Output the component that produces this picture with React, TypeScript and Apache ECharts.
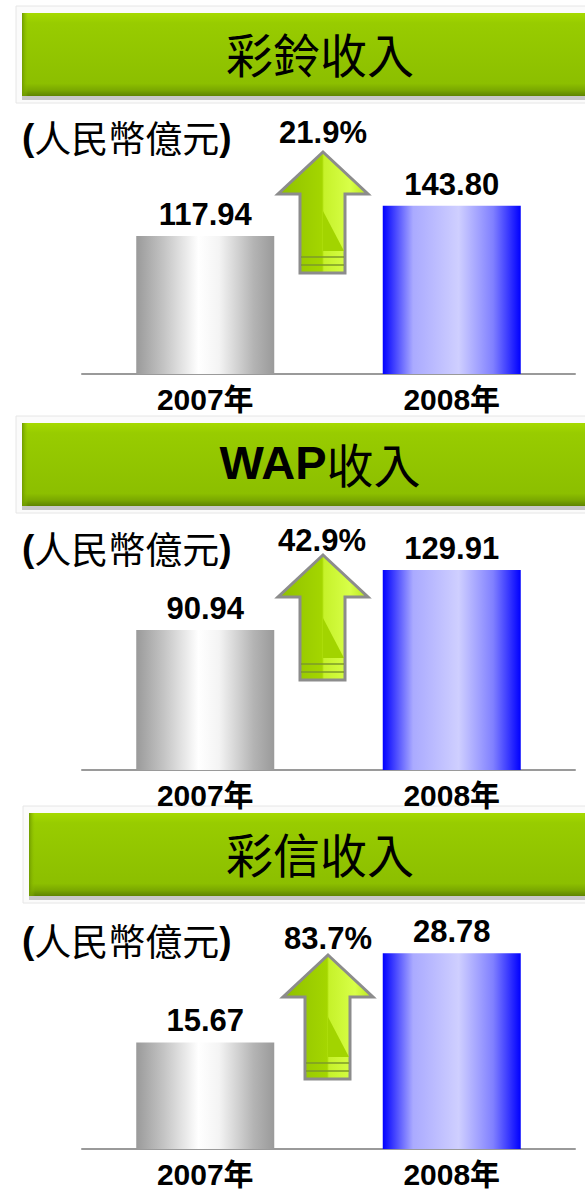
import React, { useEffect, useRef } from "react";
import * as echarts from "echarts";

// ---- data ----
const categories = ["2007年", "2008年"];
const panelTitles = ["彩鈴收入", "WAP收入", "彩信收入"];
const ringtoneRevenue = [117.94, 143.8];
const wapRevenue = [90.94, 129.91];
const mmsRevenue = [15.67, 28.78];
const growthLabels = ["21.9%", "42.9%", "83.7%"];
const unitLabel = "(人民幣億元)";
const axisMax = [150, 140, 30];

// ---- layout ----
const W = 585;
const H = 1189;
const gridTops = [198.5, 554.4, 945];
const gridBottoms = [374, 770, 1153];
const bannerX = [22, 22, 29];
const bannerY = [13, 423, 813];
const bannerH = 83;
const unitY = [137, 548, 940];
const arrowPos = [
  { x: 278, y: 152, h: 121 },
  { x: 278, y: 555, h: 125 },
  { x: 283, y: 955, h: 124 },
];
const growthPos = [
  { x: 323, y: 132 },
  { x: 322, y: 540 },
  { x: 328, y: 938 },
];

const SANS = "'Liberation Sans', Arial, 'Noto Sans CJK TC', sans-serif";
const CJK = "'Noto Sans CJK TC', 'Noto Sans CJK SC', sans-serif";

const grayGrad = () =>
  new echarts.graphic.LinearGradient(0, 0, 1, 0, [
    { offset: 0, color: "#9a9a9a" },
    { offset: 0.2, color: "#c4c4c4" },
    { offset: 0.45, color: "#ffffff" },
    { offset: 0.6, color: "#f4f4f4" },
    { offset: 0.85, color: "#b4b4b4" },
    { offset: 1, color: "#9a9a9a" },
  ]);
const blueGrad = () =>
  new echarts.graphic.LinearGradient(0, 0, 1, 0, [
    { offset: 0, color: "#0000ff" },
    { offset: 0.22, color: "#aaaaff" },
    { offset: 0.55, color: "#cfcfff" },
    { offset: 0.8, color: "#8080ff" },
    { offset: 1, color: "#0000ff" },
  ]);

function banner(i: number) {
  const x = bannerX[i];
  const y = bannerY[i];
  const titleText =
    i === 1 ? "{a|WAP}{b|收入}" : "{b|" + panelTitles[i] + "}";
  return {
    type: "group",
    silent: true,
    children: [
      {
        type: "rect",
        shape: { x: x - 6, y: y - 7, width: W - x + 20, height: bannerH + 14 },
        style: { fill: "#fbfbfb", stroke: "#e6e6e6", lineWidth: 1 },
      },
      {
        type: "rect",
        shape: { x: x, y: y + bannerH, width: W - x + 10, height: 4 },
        style: { fill: "#c8c8c8" },
      },
      {
        type: "rect",
        shape: { x: x, y: y, width: W - x + 10, height: bannerH },
        style: {
          fill: new echarts.graphic.LinearGradient(0, 0, 0, 1, [
            { offset: 0, color: "#a6da00" },
            { offset: 0.12, color: "#98cc00" },
            { offset: 0.85, color: "#8cbf00" },
            { offset: 0.93, color: "#7aa800" },
            { offset: 1, color: "#5e8400" },
          ]),
        },
      },
      {
        type: "rect",
        shape: { x: x, y: y, width: 6, height: bannerH },
        style: {
          fill: new echarts.graphic.LinearGradient(0, 0, 1, 0, [
            { offset: 0, color: "#6f9a00" },
            { offset: 1, color: "rgba(143,192,0,0)" },
          ]),
        },
      },
      {
        type: "text",
        style: {
          text: titleText,
          x: 320,
          y: y + bannerH / 2 - 2,
          align: "center",
          verticalAlign: "middle",
          textAlign: "center",
          textVerticalAlign: "middle",
          rich: {
            a: {
              fontFamily: SANS,
              fontWeight: "bold",
              fontSize: 47,
              fill: "#000",
              color: "#000",
            },
            b: {
              fontFamily: CJK,
              fontWeight: "normal",
              fontSize: 47,
              fill: "#000",
              color: "#000",
            },
          },
        },
      },
    ],
  };
}

function unit(i: number) {
  const inner = unitLabel.slice(1, unitLabel.length - 1);
  return {
    type: "text",
    silent: true,
    style: {
      text: "{p|(}{c|" + inner + "}{p|)}",
      x: 22,
      y: unitY[i],
      align: "left",
      verticalAlign: "middle",
      textAlign: "left",
      textVerticalAlign: "middle",
      rich: {
        p: { fontFamily: SANS, fontWeight: "bold", fontSize: 37, fill: "#000", color: "#000" },
        c: { fontFamily: CJK, fontWeight: "normal", fontSize: 37, fill: "#000", color: "#000" },
      },
    },
  };
}

function arrow(i: number) {
  const { x, y, h } = arrowPos[i];
  const hb = 42;
  return {
    type: "group",
    x,
    y,
    silent: true,
    children: [
      {
        type: "polygon",
        shape: {
          points: [
            [45, 0],
            [90, hb],
            [67, hb],
            [67, h],
            [22, h],
            [22, hb],
            [0, hb],
          ],
        },
        style: {
          fill: new echarts.graphic.LinearGradient(0, 0, 1, 0, [
            { offset: 0, color: "#8fc000" },
            { offset: 0.49, color: "#a4d600" },
            { offset: 0.51, color: "#c6f22a" },
            { offset: 0.8, color: "#d8ff48" },
            { offset: 1, color: "#b8e41c" },
          ]),
          stroke: "#8c8c8c",
          lineWidth: 3,
          lineJoin: "miter",
        },
      },
      {
        type: "polygon",
        shape: {
          points: [
            [45, h - 62],
            [66, h - 22],
            [45, h - 22],
          ],
        },
        style: { fill: "#a2d400" },
      },
      {
        type: "line",
        shape: { x1: 23, y1: h - 16, x2: 66, y2: h - 16 },
        style: { stroke: "#7d9a2a", lineWidth: 1.5 },
      },
      {
        type: "line",
        shape: { x1: 23, y1: h - 8, x2: 66, y2: h - 8 },
        style: { stroke: "#7d9a2a", lineWidth: 1.5 },
      },
    ],
  };
}

function growth(i: number) {
  return {
    type: "text",
    silent: true,
    style: {
      text: growthLabels[i],
      x: growthPos[i].x,
      y: growthPos[i].y,
      align: "center",
      verticalAlign: "middle",
      textAlign: "center",
      textVerticalAlign: "middle",
      fontFamily: SANS,
      fontWeight: "bold",
      fontSize: 31,
      fill: "#000",
    },
  };
}

export default function App() {
  const ref = useRef<HTMLDivElement>(null);
  useEffect(() => {
    if (!ref.current) return;
    const chart = echarts.init(ref.current, null, { renderer: "svg" });
    const seriesData = [ringtoneRevenue, wapRevenue, mmsRevenue];
    const grids = [0, 1, 2].map((i) => ({
      left: 82,
      width: 493,
      top: gridTops[i],
      height: gridBottoms[i] - gridTops[i],
      containLabel: false,
    }));
    const xAxes = [0, 1, 2].map((i) => ({
      type: "category",
      gridIndex: i,
      data: categories,
      axisLine: { show: true, lineStyle: { color: "#9a9a9a", width: 2 } },
      axisTick: { show: false },
      axisLabel: {
        color: "#000",
        fontFamily: SANS,
        fontWeight: "bold",
        fontSize: 30,
        margin: 10,
      },
      splitLine: { show: false },
    }));
    const yAxes = [0, 1, 2].map((i) => ({
      type: "value",
      gridIndex: i,
      min: 0,
      max: axisMax[i],
      show: false,
      splitLine: { show: false },
    }));
    const series = [0, 1, 2].map((i) => ({
      type: "bar",
      xAxisIndex: i,
      yAxisIndex: i,
      barWidth: 138,
      data: seriesData[i].map((v, j) => ({
        value: v,
        itemStyle: { color: j === 0 ? grayGrad() : blueGrad() },
      })),
      label: {
        show: true,
        position: "top",
        distance: 6,
        color: "#000",
        fontFamily: SANS,
        fontWeight: "bold",
        fontSize: 31,
        formatter: (p: any) => Number(p.value).toFixed(2),
      },
      silent: true,
    }));
    chart.setOption({
      animation: false,
      backgroundColor: "#ffffff",
      grid: grids,
      xAxis: xAxes,
      yAxis: yAxes,
      series,
      graphic: [
        ...[0, 1, 2].map(banner),
        ...[0, 1, 2].map(unit),
        ...[0, 1, 2].map(arrow),
        ...[0, 1, 2].map(growth),
      ],
    });
    return () => chart.dispose();
  }, []);
  return (
    <div
      ref={ref}
      style={{ position: "absolute", left: 0, top: 0, width: W, height: H }}
    />
  );
}
